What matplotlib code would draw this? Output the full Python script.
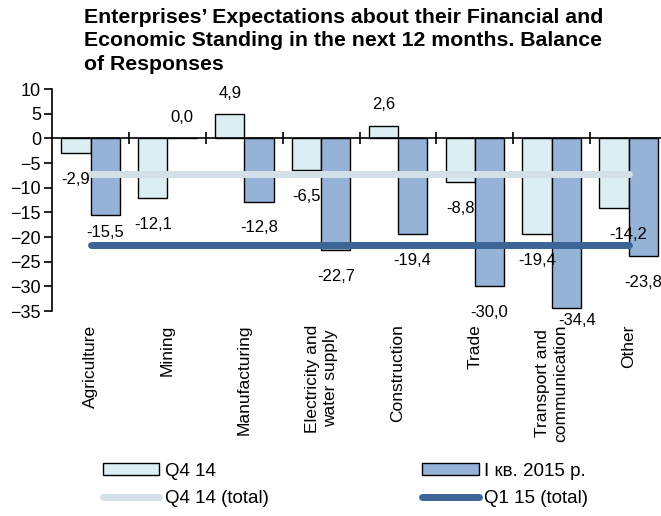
"""Enterprises' expectations about financial standing: balance of responses by sector."""

import matplotlib

matplotlib.use("Agg")
import matplotlib.pyplot as plt
from matplotlib.lines import Line2D
from matplotlib.patches import Patch
from matplotlib.transforms import blended_transform_factory

plt.rcParams["font.family"] = ["Liberation Sans", "DejaVu Sans"]

CATEGORIES = [
    "Agriculture",
    "Mining",
    "Manufacturing",
    "Electricity and\nwater supply",
    "Construction",
    "Trade",
    "Transport and\ncommunication",
    "Other",
]
Q4_14 = [-2.9, -12.1, 4.9, -6.5, 2.6, -8.8, -19.4, -14.2]
Q1_15 = [-15.5, 0.0, -12.8, -22.7, -19.4, -30.0, -34.4, -23.8]
Q4_TOTAL = -7.2
Q1_TOTAL = -21.6
Y_TICKS = [10, 5, 0, -5, -10, -15, -20, -25, -30, -35]

LIGHT = "#dbeef4"
DARK = "#95b3d7"
LIGHT_LINE = "#d3e0e8"
DARK_LINE = "#3b6597"


def fmt(v):
    return f"{v:.1f}".replace(".", ",")


fig = plt.figure(figsize=(6.61, 5.16), dpi=100)
ax = fig.add_axes([0.079, 0.397, 0.93, 0.4305])

x = list(range(len(CATEGORIES)))
w = 0.38
ax.bar([i - w / 2 for i in x], Q4_14, w, color=LIGHT, edgecolor="black", lw=1, zorder=2)
ax.bar([i + w / 2 for i in x], Q1_15, w, color=DARK, edgecolor="black", lw=1, zorder=2)

ax.plot([0, len(x) - 1], [Q4_TOTAL] * 2, color=LIGHT_LINE, lw=5, solid_capstyle="round", zorder=3)
ax.plot([0, len(x) - 1], [Q1_TOTAL] * 2, color=DARK_LINE, lw=5, solid_capstyle="round", zorder=3)

# data labels: above positives, below negatives (a few nudged like the source)
nudge = {("q1", 0): (0, 6), ("q1", 6): (8, 10), ("q4", 7): (10, 0)}
for key, vals, dx in (("q4", Q4_14, -w / 2), ("q1", Q1_15, w / 2)):
    for i, v in enumerate(vals):
        off = 15 if v >= 0 else -19
        ex, ey = nudge.get((key, i), (0, 0))
        ax.annotate(
            fmt(v), (i + dx, v), xytext=(ex, off + ey), textcoords="offset points",
            ha="center", va="center", fontsize=12, zorder=4,
        )

ax.set_xlim(-0.5, len(x) - 0.5)
ax.set_ylim(-35, 10)
ax.set_yticks(Y_TICKS)
ax.tick_params(axis="y", labelsize=13, length=6, width=1.2, pad=2)
ax.spines["top"].set_visible(False)
ax.spines["right"].set_visible(False)
ax.spines["left"].set_linewidth(1.2)
ax.spines["bottom"].set_position(("data", 0))
ax.spines["bottom"].set_linewidth(1.2)
ax.set_xticks([i + 0.5 for i in x[:-1]])
ax.set_xticklabels([])
ax.tick_params(axis="x", direction="inout", length=8, width=1.2)

trans = blended_transform_factory(ax.transData, ax.transAxes)
for i, name in enumerate(CATEGORIES):
    ax.text(i, -0.06, name, transform=trans, rotation=90, ha="center", va="top",
            fontsize=12.5, linespacing=1.25)

fig.text(0.127, 0.985, "Enterprises’ Expectations about their Financial and\n"
         "Economic Standing in the next 12 months. Balance\nof Responses",
         ha="left", va="top", fontsize=15.3, fontweight="bold", linespacing=1.3)

handles = [
    Patch(facecolor=LIGHT, edgecolor="black", lw=1),
    Line2D([], [], color=LIGHT_LINE, lw=5, solid_capstyle="round"),
    Patch(facecolor=DARK, edgecolor="black", lw=1),
    Line2D([], [], color=DARK_LINE, lw=5, solid_capstyle="round"),
]
labels = ["Q4 14", "Q4 14 (total)", "I кв. 2015 р.", "Q1 15 (total)"]
fig.legend(handles, labels, ncol=2, loc="lower left", bbox_to_anchor=(0.13, -0.015),
           frameon=False, fontsize=13.5, handlelength=3.0, handleheight=0.6,
           columnspacing=8.2, labelspacing=0.55, handletextpad=0.3)

fig.savefig("out.png", dpi=100)
